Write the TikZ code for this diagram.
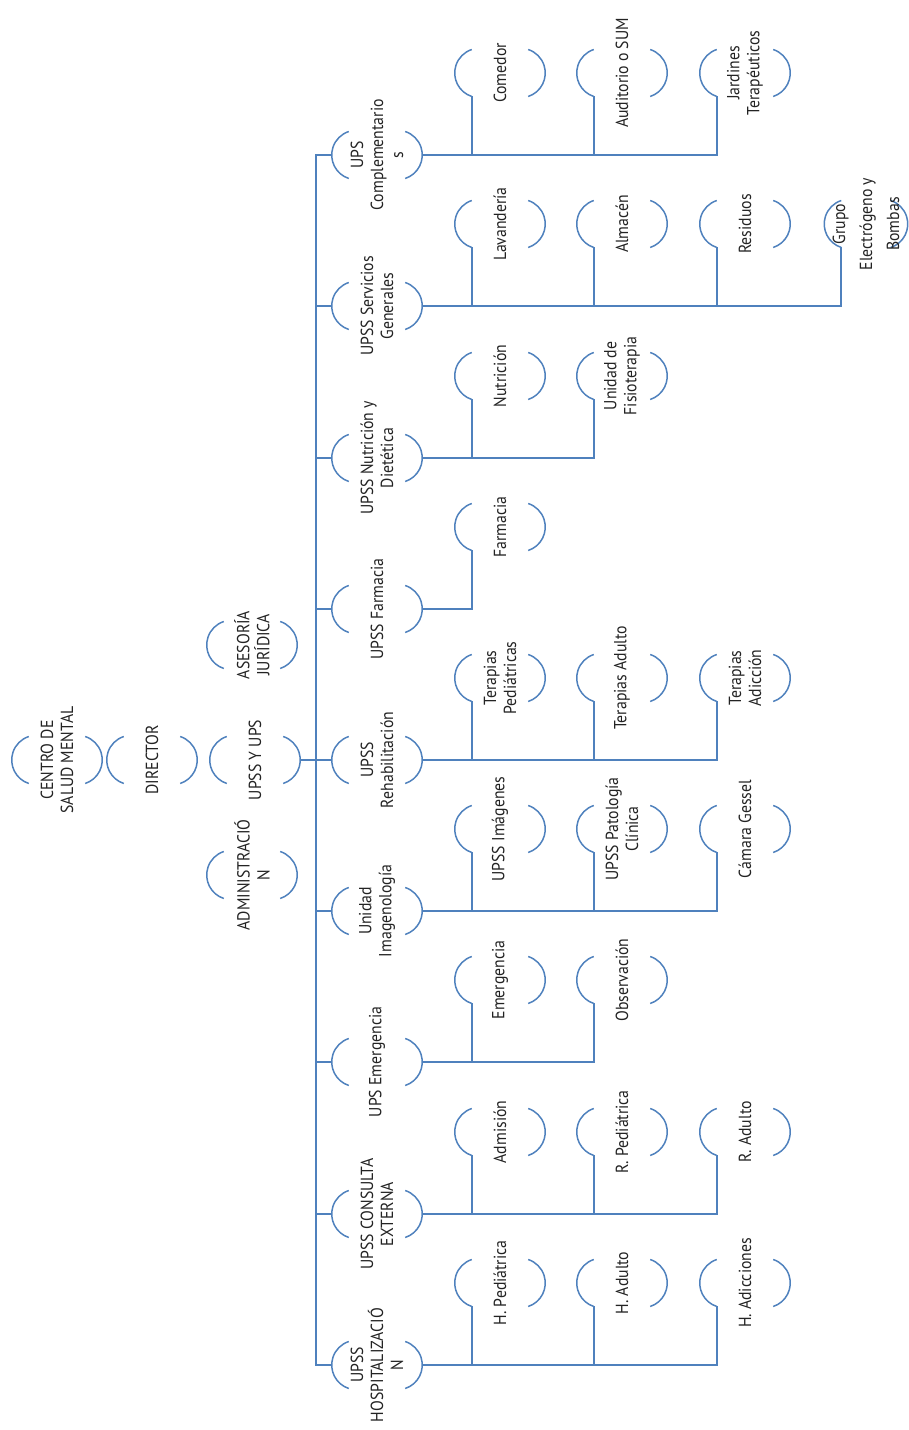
\documentclass[tikz,border=0pt]{standalone}
\usepackage{fontspec}
\setmainfont{PT Sans}[FakeStretch=0.9]
\usetikzlibrary{calc,positioning}
\definecolor{orgblue}{RGB}{79,129,189}
\definecolor{textgray}{RGB}{35,35,35}
\tikzset{
  braced/.style={
    align=center,
    minimum height=90pt,
    inner sep=0pt,
    text=textgray,
    font=\fontsize{17.5}{20}\selectfont,
    append after command={
      \pgfextra{
        \draw[orgblue,line width=1.5pt]
          (\tikzlastnode.north) ++(-23.5,-17) arc[start angle=162,end angle=18,radius=24.7pt]
          (\tikzlastnode.south) ++(-23.5,17) arc[start angle=198,end angle=342,radius=24.7pt];
      }
    }
  },
  link/.style={
    orgblue,
    line width=2.2pt
  }
}

\begin{document}
\begin{tikzpicture}[rotate=90,transform shape,x=1pt,y=1pt]
\useasboundingbox (0,0) rectangle (1430,909);
% direccion
\node[braced] (centro) at (670,852) {CENTRO DE\\SALUD MENTAL};
\node[braced] (director) at (670,757) {DIRECTOR};
\node[braced] (upss) at (670,654) {UPSS Y UPS};
\node[braced] (admin) at (555,657) {ADMINISTRACIÓ\\N};
\node[braced] (asesoria) at (785,657) {ASESORÍA\\JURÍDICA};
% unidades
\node[braced] (hosp) at (65,532) {UPSS\\HOSPITALIZACIÓ\\N};
\node[braced] (consulta) at (216,532) {UPSS CONSULTA\\EXTERNA};
\node[braced] (emerg) at (368,532) {UPS Emergencia};
\node[braced] (imagen) at (519,532) {Unidad\\Imagenología};
\node[braced] (rehab) at (670,532) {UPSS\\Rehabilitación};
\node[braced] (farm) at (821,532) {UPSS Farmacia};
\node[braced] (nutri) at (972,532) {UPSS Nutrición y\\Dietética};
\node[braced] (servgen) at (1124,532) {UPSS Servicios\\Generales};
\node[braced] (compl) at (1275,532) {UPS\\Complementario\\s};
% servicios
\node[braced] (hped) at (147,409) {H. Pediátrica};
\node[braced] (hadul) at (147,287) {H. Adulto};
\node[braced] (hadic) at (147,164) {H. Adicciones};
\node[braced] (admis) at (298,409) {Admisión};
\node[braced] (rped) at (298,287) {R. Pediátrica};
\node[braced] (radul) at (298,164) {R. Adulto};
\node[braced] (emerg2) at (450,409) {Emergencia};
\node[braced] (obs) at (450,287) {Observación};
\node[braced] (img) at (601,409) {UPSS Imágenes};
\node[braced] (pato) at (601,287) {UPSS Patología\\Clínica};
\node[braced] (gessel) at (601,164) {Cámara Gessel};
\node[braced] (tped) at (752,409) {Terapias\\Pediátricas};
\node[braced] (tadul) at (752,287) {Terapias Adulto};
\node[braced] (tadic) at (752,164) {Terapias\\Adicción};
\node[braced] (farm2) at (903,409) {Farmacia};
\node[braced] (nutri2) at (1054,409) {Nutrición};
\node[braced] (fisio) at (1054,287) {Unidad de\\Fisioterapia};
\node[braced] (lavan) at (1206,409) {Lavandería};
\node[braced] (almac) at (1206,287) {Almacén};
\node[braced] (resid) at (1206,164) {Residuos};
\node[braced,minimum height=83pt,font=\fontsize{17.5}{27}\selectfont] (grupo) at (1206,43) {Grupo\\Electrógeno y\\Bombas};
\node[braced] (comed) at (1357,409) {Comedor};
\node[braced] (audit) at (1357,287) {Auditorio o SUM};
\node[braced] (jardin) at (1357,164) {Jardines\\Terapéuticos};
% conexiones
\draw[link] (upss.south) -- ++(0,-16) coordinate (bus);
\foreach \u in {hosp,consulta,emerg,imagen,rehab,farm,nutri,servgen,compl}
  \draw[link] (bus) -| (\u.north);
\foreach \u/\s in {hosp/hped,hosp/hadul,hosp/hadic,consulta/admis,consulta/rped,consulta/radul,
    emerg/emerg2,emerg/obs,imagen/img,imagen/pato,imagen/gessel,rehab/tped,rehab/tadul,rehab/tadic,
    farm/farm2,nutri/nutri2,nutri/fisio,servgen/lavan,servgen/almac,servgen/resid,servgen/grupo,
    compl/comed,compl/audit,compl/jardin}
  \draw[link] (\u.south) |- ($(\s.north)+(-23.5,-17)$);
\end{tikzpicture}
\end{document}
